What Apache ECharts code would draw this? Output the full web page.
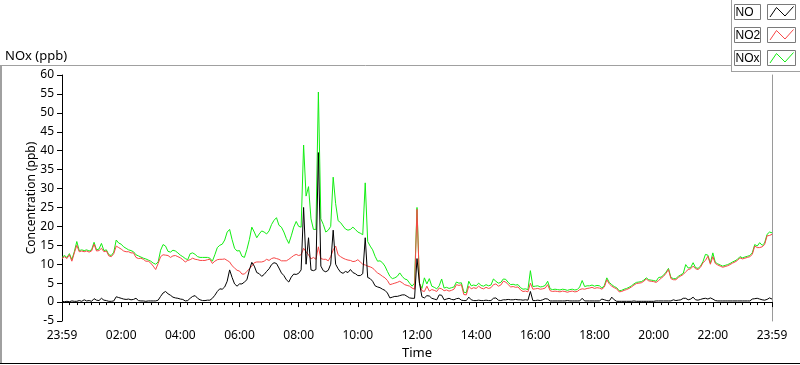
<!DOCTYPE html>
<html>
<head>
<meta charset="utf-8">
<script src="https://cdn.jsdelivr.net/npm/echarts@6/dist/echarts.min.js"></script>
<style>
html,body{margin:0;padding:0;background:#fff;}
#chart{width:800px;height:365px;}
</style>
</head>
<body>
<div id="chart"></div>
<script>
// Sampling step of the record (minutes after 23:59)
const STEP_MIN = 5;
const xTicks = ['23:59','02:00','04:00','06:00','08:00','10:00','12:00','14:00','16:00','18:00','20:00','22:00','23:59'];
const seriesNames = ['NO','NO2','NOx'];

const no = [
0.2,0.1,0.2,0.1,0.3,0.2,0.2,0.4,0.2,0.6,0.3,0.4,0.2,0.9,0.5,0.4,1.0,0.5,0.4,0.2,0.2,0.3,1.4,1.2,
1.0,0.8,0.7,0.8,0.6,0.7,1.0,0.4,0.3,0.3,0.2,0.3,0.3,0.3,0.3,0.5,1.5,2.4,2.8,2.2,1.8,1.3,1.1,1.0,
0.8,0.7,0.3,0.4,1.0,1.5,1.7,1.0,0.6,0.4,0.4,0.5,0.5,1.0,1.8,2.8,3.5,3.4,4.0,5.5,8.5,6.5,4.8,4.2,
4.8,4.8,5.3,5.9,8.5,10.5,9.5,7.8,7.5,6.8,7.3,8.1,8.8,9.9,10.4,10.2,9,7.7,7,5.9,5.3,6.6,7.4,7.3,
7.6,8.5,25,10,17,8.5,8.3,8.6,39.5,9.5,8.3,8,8.4,10,19,10,8.8,7.9,7.6,8.1,7.8,8.6,7.8,7.5,
7,7,7.5,17,6.5,6.2,5.5,4.3,4,3.8,3.4,3.1,2.4,1.1,1.3,1.5,1.5,1.7,1.9,1.9,1.5,1.1,1.0,1.0,
11.5,5.0,1.4,1.1,1.7,1.6,1.0,0.8,0.6,1.9,1.8,0.6,0.8,1.0,0.7,0.6,0.9,1.0,0.5,0.4,0.4,1.3,0.6,0.4,
0.4,0.5,0.4,0.4,0.5,0.4,0.4,1.0,1.1,0.5,0.4,0.6,0.6,0.7,0.6,0.6,0.7,0.6,0.6,0.5,0.6,0.5,2.8,0.4,
0.4,0.5,0.4,0.6,0.9,0.8,0.3,0.3,0.3,0.3,0.3,0.3,0.3,0.4,0.3,0.3,0.3,0.3,0.3,1.0,0.3,0.3,0.3,0.3,
0.3,0.3,0.3,0.8,0.6,0.4,0.3,1.3,0.6,0.2,0.2,0.2,0.2,0.2,0.2,0.2,0.3,0.2,0.2,0.2,0.2,0.2,0.2,0.2,
0.2,0.3,0.3,0.3,0.3,0.3,0.3,0.3,0.6,0.4,0.5,0.6,1.0,1.0,0.6,0.8,1.3,0.6,0.5,0.7,0.9,1.0,0.8,1.1,
0.8,0.4,0.3,0.3,0.3,0.3,0.3,0.3,0.3,0.3,0.3,0.3,0.3,0.3,0.3,0.3,0.8,0.9,1.0,0.8,0.6,0.5,0.7,1.1,
0.8
];

const no2 = [
11.5,12,11.5,12.5,10.8,13,15,13.3,13.5,13.3,13.5,13.2,13.5,15.3,13.5,13.6,14.2,13.3,13.5,12.2,12,12.8,14.8,14.4,
14,13.5,13.3,13.3,13,13,11.8,11.5,11.6,11.3,10.8,10.8,10.3,9.5,8.6,10.2,12,12.5,12.4,12.3,11.8,12.2,12.3,12,
11.7,11.2,10.6,11,11.2,11.6,11.3,11.2,11,11,11,11.2,11.3,10.2,10.8,11.2,11.3,11.3,11.4,11,10.6,9.6,9,8.4,
8.2,7.4,7.4,8.1,8.8,9.5,10.4,10.6,10.6,10.6,10.8,11.3,11,11.5,11.7,11.5,11.3,10.9,10.9,10.9,11.3,11.8,12.3,12.6,
12.3,12.5,14.2,13.3,12.5,11.4,11.8,11.3,14.6,11.5,11.3,11.3,10.9,12,13.8,14.8,12.5,12,11.6,11.3,11.1,11,10.7,10.8,
11.2,10.6,10,9.8,9.5,9.3,9,8.3,7.7,7.3,6.8,6.4,5.7,4.6,4.8,5,5.2,5.5,5.1,4.6,4.4,4.2,3.7,3.4,
24.5,5,3.0,2.8,4.2,2.9,3.3,3.1,2.8,3.7,3.5,3.0,3.2,2.9,3.1,3.4,4.6,4.4,4.6,2.0,1.9,4.2,3.5,3.8,
3.6,4.2,3.7,3.5,3.9,3.6,3.8,4.6,4.8,4.2,4.5,5.5,5.3,4.6,4.0,4.1,3.9,4.0,3.2,2.8,2.9,2.7,5.0,3.4,
3.5,3.6,3.4,3.5,3.7,4.6,3.0,2.8,2.9,2.8,2.7,2.9,2.8,2.6,2.8,2.9,2.7,2.8,3.3,3.5,3.4,3.6,3.7,3.9,
3.6,3.8,3.7,3.4,4.0,5.9,4.8,4.2,3.8,3.5,2.7,2.8,3.1,3.3,3.6,4.0,4.5,4.9,5.0,5.1,5.5,6.1,5.6,5.5,
5.4,5.2,5.7,6.3,6.8,7.6,8.6,6.2,5.9,5.9,6.5,6.9,7.3,8.0,8.6,8.8,9.5,8.8,8.6,9.2,10.4,11.0,12.1,10.0,
12.0,10.2,9.8,9.5,9.2,9.4,9.6,9.9,10.3,10.6,11.0,11.7,11.4,11.6,11.8,12.0,12.6,14.8,14.4,14.4,14.6,15.2,17.5,17.6,
17.9
];

const nox = [
11.8,12.3,11.8,12.8,11.2,13.3,16,13.6,13.8,13.6,13.8,13.5,13.8,15.8,13.8,14,15.5,13.6,13.8,12.5,12.3,13.2,16.4,15.6,
15.3,14.6,14.2,13.8,13.6,13.3,12.5,12.2,11.9,11.6,11.4,11.1,10.8,10.3,10,10.6,13.7,15.2,14.8,13.4,13.2,13.7,13.5,13,
12.4,12,11.5,11.2,12.8,13,12.6,12,11.8,11.8,11.8,11.8,11.6,10.8,12.5,14.4,15,15.3,16.4,18.5,19.2,16.5,14.2,13.5,
13.6,12.1,11.8,13.9,16.5,19.8,18.5,17,18,18.8,18.5,18,18.8,20.5,21.6,22.3,20.3,19.8,18.5,16.8,15.5,17.5,19.8,21.3,
20,19.8,41.5,28,30.5,22,19.2,19.2,55.5,22,20.5,18.5,19,20,33,26,21.5,21,20.1,19.3,19,19.2,19.8,19.2,
18.5,18.2,17.8,31.5,16,14.8,13.8,12.1,10.8,10.9,10.4,9.5,8.1,6.8,6.2,6.4,6.8,7.7,6.8,6.1,5.9,5.0,4.2,5.0,
25.0,5.0,3.6,6.4,4.8,6.2,4.2,3.9,3.5,4.3,6.1,3.7,3.9,3.6,3.8,4.0,5.3,5.0,5.1,2.6,2.5,5.5,4.3,4.5,
4.3,5.0,4.4,4.2,4.6,4.3,4.5,6.1,5.5,5.0,5.2,6.1,6.0,5.2,4.6,4.7,4.5,4.6,3.8,3.4,3.5,3.3,8.3,4.1,
4.2,4.3,4.0,4.1,4.4,5.5,3.5,3.3,3.4,3.3,3.2,3.4,3.3,3.1,3.3,3.4,3.2,3.3,4.0,5.7,4.1,4.3,4.3,4.5,
4.2,4.4,4.3,3.7,4.4,6.4,5.2,4.6,4.1,3.8,3.0,3.1,3.4,3.6,3.9,4.3,4.8,5.2,5.3,5.4,5.8,6.4,5.9,5.8,
5.7,5.5,6.5,6.6,7.1,7.9,8.9,6.5,6.2,6.2,6.8,7.2,7.6,9.9,9.0,9.1,10.4,9.1,8.9,9.5,10.7,12.6,12.4,10.3,
13.0,10.5,10.1,9.8,9.5,9.7,9.9,10.2,10.6,10.9,11.3,12.0,11.7,11.9,12.1,12.3,13.0,15.2,14.8,15.7,15.0,15.6,17.9,18.5,
18.3
];

const colors = {NO:'#000000', NO2:'#f84646', NOx:'#12ee12'};

function pairs(vals){ return vals.map((v,i)=>[i*STEP_MIN, v]); }

const chart = echarts.init(document.getElementById('chart'), null, {renderer:'canvas'});
const FONT = 'Noto Sans';

function legendItem(name, y, color){
  return [
    {type:'rect', shape:{x:734.5,y:y+0.5,width:26,height:15}, style:{fill:'#fff',stroke:'#7a7a7a',lineWidth:1}},
    {type:'text', style:{x:735.5,y:y+8.5,text:name,fill:'#000',font:'12px "Liberation Sans"',textVerticalAlign:'middle'}},
    {type:'rect', shape:{x:767.5,y:y+0.5,width:28,height:15}, style:{fill:'#fff',stroke:'#7a7a7a',lineWidth:1}},
    {type:'polyline', shape:{points:[[770,y+13],[776.5,y+3.5],[785,y+12],[793.5,y+2.5]]}, style:{stroke:color,lineWidth:1,fill:null}}
  ];
}

const option = {
  animation:false,
  backgroundColor:'#fff',
  textStyle:{fontFamily:FONT},
  grid:{left:62, right:28, top:75, bottom:44, show:false},
  xAxis:[{
    type:'value', min:0, max:1440, interval:120,
    name:'Time', nameLocation:'middle', nameGap:25,
    nameTextStyle:{color:'#000', fontSize:13, fontFamily:FONT},
    axisLine:{show:true, lineStyle:{color:'#000', width:1}},
    axisTick:{show:true, length:5, lineStyle:{color:'#000'}},
    minorTick:{show:true, splitNumber:8, length:3, lineStyle:{color:'#000'}},
    splitLine:{show:false},
    axisLabel:{color:'#000', fontSize:12, margin:9, fontFamily:FONT,
      formatter:function(v){ return xTicks[Math.round(v/120)]; }}
  },{
    type:'value', min:0, max:1440, position:'top',
    axisLine:{show:true, lineStyle:{color:'#000', width:1}},
    axisTick:{show:false}, axisLabel:{show:false}, splitLine:{show:false}
  }],
  yAxis:[{
    type:'value', min:-5, max:60, interval:5,
    name:'Concentration (ppb)', nameLocation:'middle', nameGap:24, nameRotate:90,
    nameMoveOverlap:false,
    nameTextStyle:{color:'#000', fontSize:12, fontFamily:FONT},
    axisLine:{show:true, onZero:false, lineStyle:{color:'#000', width:1}},
    axisTick:{show:true, length:5, lineStyle:{color:'#000'}},
    splitLine:{show:false},
    axisLabel:{color:'#000', fontSize:12, margin:8, fontFamily:FONT}
  },{
    type:'value', min:-5, max:60, position:'right',
    axisLine:{show:true, onZero:false, lineStyle:{color:'#9a9a9a', width:1}},
    axisTick:{show:false}, axisLabel:{show:false}, splitLine:{show:false}
  }],
  series:[
    {name:'NOx', type:'line', data:pairs(nox), showSymbol:false, symbol:'none',
     lineStyle:{color:colors.NOx, width:1}, itemStyle:{color:colors.NOx}, z:2},
    {name:'NO2', type:'line', data:pairs(no2), showSymbol:false, symbol:'none',
     lineStyle:{color:colors.NO2, width:1}, itemStyle:{color:colors.NO2}, z:3},
    {name:'NO', type:'line', data:pairs(no), showSymbol:false, symbol:'none',
     lineStyle:{color:colors.NO, width:1}, itemStyle:{color:colors.NO}, z:4}
  ],
  graphic:[
    {type:'text', style:{x:5, y:56, text:'NOx (ppb)', fill:'#000', font:'13px '+FONT, textVerticalAlign:'middle'}},
    {type:'line', shape:{x1:0,y1:65.5,x2:731,y2:65.5}, style:{stroke:'#a0a0a0',lineWidth:1}},
    {type:'line', shape:{x1:1,y1:65,x2:1,y2:364}, style:{stroke:'#a0a0a0',lineWidth:2}},
    {type:'line', shape:{x1:0,y1:363.5,x2:800,y2:363.5}, style:{stroke:'#000',lineWidth:1}},
    {type:'line', shape:{x1:731.5,y1:0,x2:731.5,y2:72}, style:{stroke:'#a0a0a0',lineWidth:1}},
    {type:'line', shape:{x1:731,y1:71.5,x2:800,y2:71.5}, style:{stroke:'#a0a0a0',lineWidth:1}}
  ].concat(legendItem(seriesNames[0],4,colors.NO), legendItem(seriesNames[1],27,colors.NO2), legendItem(seriesNames[2],50,colors.NOx))
};
chart.setOption(option);
</script>
</body>
</html>
